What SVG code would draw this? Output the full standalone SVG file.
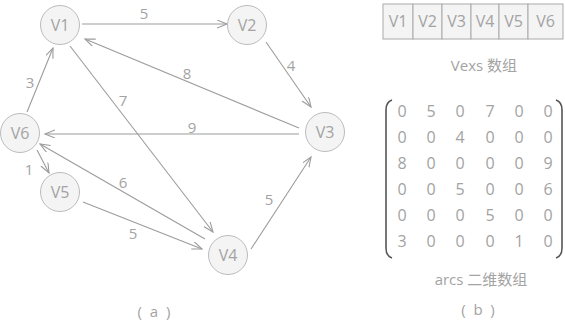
<svg xmlns="http://www.w3.org/2000/svg" width="565" height="322" viewBox="0 0 565 322">
<style>
.n circle{fill:#f4f4f4;stroke:#bcbcbc;stroke-width:1}
text{font-family:"Open Sans","Noto Sans","Noto Sans CJK SC",sans-serif;font-weight:400;fill:#a3a3a3}
.nt{font-size:16px;text-anchor:middle;dominant-baseline:central}
.lb{font-size:15px;text-anchor:middle;dominant-baseline:central}
.e line{stroke:#9c9c9c;stroke-width:1.1;marker-end:url(#ah)}
.cell{fill:#f4f4f4;stroke:#aaaaaa;stroke-width:1}
.m{font-size:16px;text-anchor:middle;dominant-baseline:central}
.cap{font-size:15px;text-anchor:middle;dominant-baseline:central}
.br{fill:none;stroke:#555;stroke-width:1.6}
</style>
<defs>
<marker id="ah" markerWidth="12" markerHeight="10" refX="10" refY="4" orient="auto" markerUnits="userSpaceOnUse">
<path d="M0,0 L10,4 L0,8" fill="none" stroke="#9c9c9c" stroke-width="1.1"/>
</marker>
</defs>
<g id="connectors" class="e">
<line x1="82" y1="24" x2="227" y2="24"/>
<line x1="266" y1="42" x2="311" y2="107"/>
<line x1="299" y1="128" x2="85" y2="39"/>
<line x1="299" y1="134" x2="45" y2="134"/>
<line x1="27" y1="112" x2="53" y2="48"/>
<line x1="70" y1="46" x2="213" y2="232"/>
<line x1="37" y1="150" x2="49" y2="173"/>
<line x1="205" y1="239" x2="40" y2="144"/>
<line x1="83" y1="202" x2="202" y2="249"/>
<line x1="251" y1="249" x2="311" y2="157"/>
</g>
<g id="edge-labels">
<text class="lb" x="144" y="13">5</text>
<text class="lb" x="291" y="65">4</text>
<text class="lb" x="187" y="73">8</text>
<text class="lb" x="192" y="127">9</text>
<text class="lb" x="30" y="82">3</text>
<text class="lb" x="123" y="100">7</text>
<text class="lb" x="29" y="169">1</text>
<text class="lb" x="123" y="182">6</text>
<text class="lb" x="133" y="233">5</text>
<text class="lb" x="269" y="199">5</text>
</g>
<g id="V1" class="n"><circle cx="60" cy="25" r="19.5"/><text class="nt" x="60" y="25">V1</text></g>
<g id="V2" class="n"><circle cx="247" cy="25" r="19.5"/><text class="nt" x="247" y="25">V2</text></g>
<g id="V3" class="n"><circle cx="325" cy="132" r="19.5"/><text class="nt" x="325" y="132">V3</text></g>
<g id="V6" class="n"><circle cx="20" cy="133" r="19.5"/><text class="nt" x="20" y="133">V6</text></g>
<g id="V5" class="n"><circle cx="60" cy="192" r="19.5"/><text class="nt" x="60" y="192">V5</text></g>
<g id="V4" class="n"><circle cx="228" cy="255" r="19.5"/><text class="nt" x="228" y="255">V4</text></g>
<text class="cap" x="154" y="311" xml:space="preserve">(  a  )</text>
<g id="vexs">
<rect class="cell" x="383" y="4" width="30" height="35"/>
<rect class="cell" x="413" y="4" width="29" height="35"/>
<rect class="cell" x="442" y="4" width="29" height="35"/>
<rect class="cell" x="471" y="4" width="28" height="35"/>
<rect class="cell" x="499" y="4" width="29" height="35"/>
<rect class="cell" x="528" y="4" width="35" height="35"/>
<text class="m" x="398" y="21">V1</text>
<text class="m" x="427.5" y="21">V2</text>
<text class="m" x="456.5" y="21">V3</text>
<text class="m" x="485" y="21">V4</text>
<text class="m" x="513.5" y="21">V5</text>
<text class="m" x="545.5" y="21">V6</text>
<text class="cap" x="484" y="65">Vexs 数组</text>
</g>
<g id="arcs">
<path class="br" d="M392,100 Q386,102 386,110 L386,248 Q386,256 392,258"/>
<path class="br" d="M556,100 Q562,102 562,110 L562,248 Q562,256 556,258"/>
<g class="mx">
<text class="m" x="402" y="111">0</text><text class="m" x="431" y="111">5</text><text class="m" x="460" y="111">0</text><text class="m" x="490" y="111">7</text><text class="m" x="519" y="111">0</text><text class="m" x="548" y="111">0</text>
<text class="m" x="402" y="137">0</text><text class="m" x="431" y="137">0</text><text class="m" x="460" y="137">4</text><text class="m" x="490" y="137">0</text><text class="m" x="519" y="137">0</text><text class="m" x="548" y="137">0</text>
<text class="m" x="402" y="163">8</text><text class="m" x="431" y="163">0</text><text class="m" x="460" y="163">0</text><text class="m" x="490" y="163">0</text><text class="m" x="519" y="163">0</text><text class="m" x="548" y="163">9</text>
<text class="m" x="402" y="189">0</text><text class="m" x="431" y="189">0</text><text class="m" x="460" y="189">5</text><text class="m" x="490" y="189">0</text><text class="m" x="519" y="189">0</text><text class="m" x="548" y="189">6</text>
<text class="m" x="402" y="215">0</text><text class="m" x="431" y="215">0</text><text class="m" x="460" y="215">0</text><text class="m" x="490" y="215">5</text><text class="m" x="519" y="215">0</text><text class="m" x="548" y="215">0</text>
<text class="m" x="402" y="241">3</text><text class="m" x="431" y="241">0</text><text class="m" x="460" y="241">0</text><text class="m" x="490" y="241">0</text><text class="m" x="519" y="241">1</text><text class="m" x="548" y="241">0</text>
</g>
<text class="cap" x="481" y="279">arcs 二维数组</text>
<text class="cap" x="478" y="309" xml:space="preserve">(  b  )</text>
</g>
</svg>
